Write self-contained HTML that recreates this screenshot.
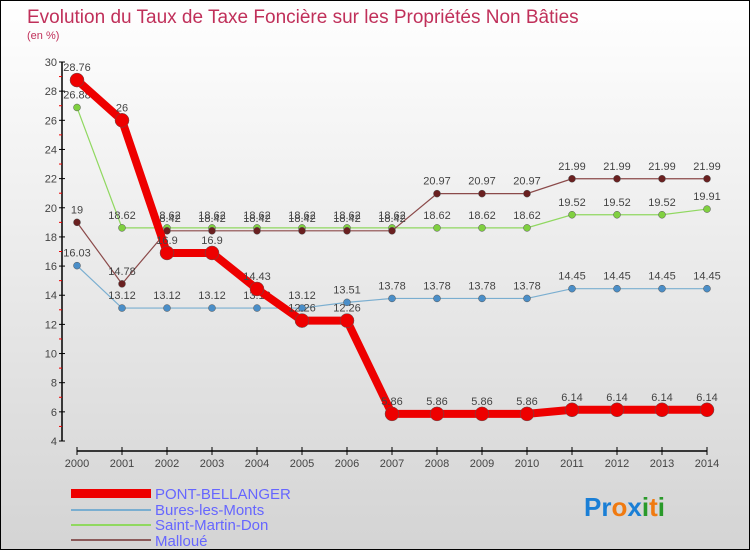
<!DOCTYPE html>
<html><head><meta charset="utf-8"><style>
body{margin:0}
#c{width:748px;height:548px;border:1px solid #000;background:linear-gradient(#fff,#d4d4d4);position:relative;font-family:"Liberation Sans",sans-serif;overflow:hidden}
text{font-family:"Liberation Sans",sans-serif}
</style></head><body>
<div id="c">
<svg id="s" width="748" height="548">
<text x="26" y="22" font-size="19" fill="#c0305a">Evolution du Taux de Taxe Foncière sur les Propriétés Non Bâties</text>
<text x="26" y="38" font-size="11" fill="#c0305a">(en %)</text>
<g id="ax"></g><g id="ser"></g>
<g>
<rect x="70" y="488" width="80" height="9" fill="#e00"/>
<text x="154" y="498" font-size="15" fill="#66f">PONT-BELLANGER</text>
<rect x="70" y="508" width="80" height="2" fill="#7aaed0"/>
<text x="154" y="514" font-size="15" fill="#66f">Bures-les-Monts</text>
<rect x="70" y="523" width="80" height="2" fill="#90d860"/>
<text x="154" y="529" font-size="15" fill="#66f">Saint-Martin-Don</text>
<rect x="70" y="538" width="80" height="2" fill="#8b5a5a"/>
<text x="154" y="545" font-size="15" fill="#66f">Malloué</text>
</g>
<g font-size="26" font-weight="bold">
<text x="583" y="515"><tspan fill="#1a7fd6">Pr</tspan><tspan fill="#f07a10">o</tspan><tspan fill="#1a7fd6">x</tspan><tspan fill="#2a9a2a">i</tspan><tspan fill="#f07a10">t</tspan><tspan fill="#2a9a2a">i</tspan></text>
</g>
</svg>
</div>
<script>
const years=[2000,2001,2002,2003,2004,2005,2006,2007,2008,2009,2010,2011,2012,2013,2014];
const yTicks=[4,6,8,10,12,14,16,18,20,22,24,26,28,30];
const pont=[28.76,26,16.9,16.9,14.43,12.26,12.26,5.86,5.86,5.86,5.86,6.14,6.14,6.14,6.14];
const bures=[16.03,13.12,13.12,13.12,13.12,13.12,13.51,13.78,13.78,13.78,13.78,14.45,14.45,14.45,14.45];
const stmartin=[26.88,18.62,18.62,18.62,18.62,18.62,18.62,18.62,18.62,18.62,18.62,19.52,19.52,19.52,19.91];
const malloue=[19,14.78,18.42,18.42,18.42,18.42,18.42,18.42,20.97,20.97,20.97,21.99,21.99,21.99,21.99];
const NS="http://www.w3.org/2000/svg";
const X=i=>76+i*45, Y=v=>61+(30-v)*(379/26);
function mk(t,a,p){const e=document.createElementNS(NS,t);for(const k in a)e.setAttribute(k,a[k]);p.appendChild(e);return e;}
const ax=document.getElementById('ax'), ser=document.getElementById('ser');
let e=mk('line',{x1:61,y1:61,x2:61,y2:440,stroke:'#000','stroke-width':1.5},ax);


e=mk('line',{x1:76,y1:450,x2:706,y2:450,stroke:'#000','stroke-width':1.5},ax);


yTicks.forEach((v,i)=>{
  mk('line',{x1:58,y1:Y(v),x2:64,y2:Y(v),stroke:'#000'},ax);
  if(i<yTicks.length-1)mk('line',{x1:58,y1:Y(v+1),x2:61,y2:Y(v+1),stroke:'#e00'},ax);
  const t=mk('text',{x:56,y:Y(v)+4,'font-size':11,fill:'#444','text-anchor':'end'},ax);t.textContent=v;
  
  
});
years.forEach((y,i)=>{
  mk('line',{x1:X(i),y1:446,x2:X(i),y2:454,stroke:'#000'},ax);
  const t=mk('text',{x:X(i),y:466,'font-size':11,fill:'#444','text-anchor':'middle'},ax);t.textContent=y;
  
  
});
function series(d,color,w,r,name,dot){
  const g=mk('g',{},ser);
  
  
  mk('polyline',{points:d.map((v,i)=>X(i)+','+Y(v)).join(' '),fill:'none',stroke:color,'stroke-width':w},g);
  d.forEach((v,i)=>{
    const c=mk('circle',{cx:X(i),cy:Y(v),r:r,fill:dot,stroke:'#555','stroke-width':0.5},g);
    
    
    const t=mk('text',{x:X(i),y:Y(v)-9,'font-size':11,fill:'#444','text-anchor':'middle'},g);t.textContent=v;
    
    
  });
}
series(bures,'#7aaed0',1.2,3.5,'bures','#4a8ec8');
series(stmartin,'#90d860',1.2,3.5,'saint-martin','#80d040');
series(malloue,'#8b4a4a',1.2,3.5,'malloue','#6a2020');
series(pont,'#e00',8,7,'pont-bellanger','#e00');
</script>
</body></html>
